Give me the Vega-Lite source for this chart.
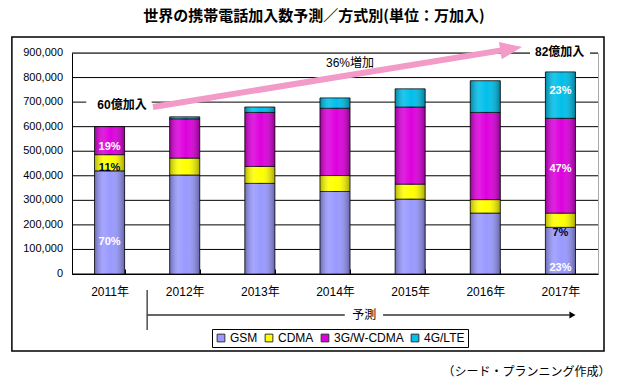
{
  "$schema": "https://vega.github.io/schema/vega-lite/v6.json",
  "width": 526,
  "height": 221,
  "autosize": {"type": "none"},
  "padding": {"left": 72, "top": 53, "right": 20, "bottom": 112},
  "background": "white",
  "config": {
    "view": {"stroke": "#aaa"},
    "font": "'Liberation Sans', 'Noto Sans CJK JP', sans-serif"
  },
  "title": {
    "text": "世界の携帯電話加入数予測／方式別(単位：万加入)",
    "font": "Noto Sans CJK JP",
    "fontSize": 15,
    "fontWeight": "bold",
    "color": "#000",
    "anchor": "middle",
    "baseline": "middle",
    "dx": -21,
    "offset": 5
  },
  "datasets": {
    "ticks": [
      {"t": 0}, {"t": 100000}, {"t": 200000}, {"t": 300000}, {"t": 400000},
      {"t": 500000}, {"t": 600000}, {"t": 700000}, {"t": 800000}, {"t": 900000}
    ],
    "subs": [
      {"year": "2011年", "series": "GSM", "k": 1, "value": 420000},
      {"year": "2011年", "series": "CDMA", "k": 2, "value": 66000},
      {"year": "2011年", "series": "3G/W-CDMA", "k": 3, "value": 114000},
      {"year": "2012年", "series": "GSM", "k": 1, "value": 403000},
      {"year": "2012年", "series": "CDMA", "k": 2, "value": 69000},
      {"year": "2012年", "series": "3G/W-CDMA", "k": 3, "value": 160000},
      {"year": "2012年", "series": "4G/LTE", "k": 4, "value": 8000},
      {"year": "2013年", "series": "GSM", "k": 1, "value": 369000},
      {"year": "2013年", "series": "CDMA", "k": 2, "value": 69000},
      {"year": "2013年", "series": "3G/W-CDMA", "k": 3, "value": 220000},
      {"year": "2013年", "series": "4G/LTE", "k": 4, "value": 22000},
      {"year": "2014年", "series": "GSM", "k": 1, "value": 336000},
      {"year": "2014年", "series": "CDMA", "k": 2, "value": 65000},
      {"year": "2014年", "series": "3G/W-CDMA", "k": 3, "value": 274000},
      {"year": "2014年", "series": "4G/LTE", "k": 4, "value": 42000},
      {"year": "2015年", "series": "GSM", "k": 1, "value": 305000},
      {"year": "2015年", "series": "CDMA", "k": 2, "value": 61000},
      {"year": "2015年", "series": "3G/W-CDMA", "k": 3, "value": 314000},
      {"year": "2015年", "series": "4G/LTE", "k": 4, "value": 74000},
      {"year": "2016年", "series": "GSM", "k": 1, "value": 248000},
      {"year": "2016年", "series": "CDMA", "k": 2, "value": 55000},
      {"year": "2016年", "series": "3G/W-CDMA", "k": 3, "value": 355000},
      {"year": "2016年", "series": "4G/LTE", "k": 4, "value": 129000},
      {"year": "2017年", "series": "GSM", "k": 1, "value": 190000},
      {"year": "2017年", "series": "CDMA", "k": 2, "value": 58000},
      {"year": "2017年", "series": "3G/W-CDMA", "k": 3, "value": 386000},
      {"year": "2017年", "series": "4G/LTE", "k": 4, "value": 189000}
    ],
    "shares": [
      {"year": "2011年", "series": "GSM", "pct": "70%", "pos": 132000},
      {"year": "2011年", "series": "CDMA", "pct": "11%", "pos": 432000},
      {"year": "2011年", "series": "3G/W-CDMA", "pct": "19%", "pos": 519000},
      {"year": "2017年", "series": "GSM", "pct": "23%", "pos": 23000},
      {"year": "2017年", "series": "CDMA", "pct": "7%", "pos": 168000},
      {"year": "2017年", "series": "3G/W-CDMA", "pct": "47%", "pos": 426000},
      {"year": "2017年", "series": "4G/LTE", "pct": "23%", "pos": 746000}
    ],
    "frame": [{"u0": -0.8, "u1": 7.08, "v0": 965000, "v1": -314000}],
    "boxes": [
      {"u0": 0.19, "u1": 1.06, "v0": 655000, "v1": 735000},
      {"u0": 6.095, "u1": 6.894, "v0": 870000, "v1": 935000}
    ],
    "darklines": [
      {"u0": 1.0, "u1": 1.0, "v0": -65000, "v1": -228000},
      {"u0": 1.0, "u1": 3.63, "v0": -167000, "v1": -167000},
      {"u0": 4.14, "u1": 6.62, "v0": -167000, "v1": -167000}
    ],
    "darkhead": [{"u0": 6.66, "v0": -167000}],
    "pinkline": [{"u0": 1.078, "u1": 5.844, "v0": 680000, "v1": 917000}],
    "pinkhead": [{"u0": 5.844, "v0": 917000}],
    "callouts": [
      {"u0": 0.665, "v0": 690000, "txt": "60億加入"},
      {"u0": 6.49, "v0": 904000, "txt": "82億加入"}
    ],
    "notes": [
      {"u0": 3.7, "v0": 859000, "txt": "36%増加"},
      {"u0": 3.89, "v0": -167000, "txt": "予測"}
    ]
  },
  "layer": [
    {
      "data": {"name": "ticks"},
      "mark": {"type": "rule", "color": "#000", "strokeWidth": 1},
      "encoding": {
        "y": {"field": "t", "type": "quantitative", "title": null, "scale": {"domain": [0, 900000], "nice": false, "zero": false}}
      }
    },
    {
      "data": {"name": "ticks"},
      "mark": {"type": "text", "align": "right", "baseline": "middle", "dx": -9, "fontSize": 11, "font": "Liberation Sans", "color": "#000"},
      "encoding": {
        "x": {"datum": 0, "type": "quantitative", "scale": {"domain": [0, 7], "nice": false, "zero": false}, "axis": null},
        "y": {"field": "t", "type": "quantitative", "title": null},
        "text": {"field": "t", "type": "quantitative", "format": ",d"}
      }
    },
    {
      "data": {"name": "subs"},
      "mark": {"type": "bar", "stroke": "#000", "strokeWidth": 0.8},
      "encoding": {
        "x": {
          "field": "year",
          "type": "nominal",
          "scale": {"paddingInner": 0.6, "paddingOuter": 0.3},
          "axis": {
            "labelAngle": 0,
            "labelFontSize": 12,
            "labelColor": "#000",
            "labelPadding": 17,
            "domainColor": "#000",
            "tickColor": "#000",
            "tickSize": -5,
            "tickBand": "extent",
            "title": "（シード・プランニング作成）",
            "titleFont": "Noto Sans CJK JP",
            "titleFontSize": 12,
            "titleFontWeight": "normal",
            "titleColor": "#000",
            "titleAnchor": null,
            "titleAlign": "right",
            "titleBaseline": "middle",
            "titleX": 538,
            "titleY": 97
          }
        },
        "y": {
          "field": "value",
          "type": "quantitative",
          "stack": "zero",
          "title": null,
          "axis": {"labels": false, "ticks": false, "grid": false, "domainColor": "#000", "title": null}
        },
        "color": {
          "field": "series",
          "type": "nominal",
          "scale": {
            "domain": ["GSM", "CDMA", "3G/W-CDMA", "4G/LTE"],
            "range": ["#9999FF", "#FFFF00", "#DD00DD", "#00BFEA"]
          },
          "legend": {
            "orient": "none",
            "legendX": 140,
            "legendY": 276,
            "direction": "horizontal",
            "title": null,
            "strokeColor": "#000",
            "padding": 3,
            "symbolType": "square",
            "symbolSize": 60,
            "symbolStrokeColor": "#333",
            "symbolStrokeWidth": 1,
            "labelFontSize": 12,
            "labelColor": "#000",
            "labelOffset": 3,
            "columnPadding": 5
          }
        },
        "order": {"field": "k", "type": "quantitative"}
      }
    },
    {
      "data": {"name": "subs"},
      "mark": {
        "type": "bar",
        "fill": {
          "gradient": "linear",
          "x1": 0, "y1": 0, "x2": 1, "y2": 0,
          "stops": [
            {"offset": 0, "color": "rgba(0,0,0,0.30)"},
            {"offset": 0.3, "color": "rgba(255,255,255,0.12)"},
            {"offset": 0.55, "color": "rgba(255,255,255,0.0)"},
            {"offset": 1, "color": "rgba(0,0,0,0.35)"}
          ]
        }
      },
      "encoding": {
        "x": {"field": "year", "type": "nominal", "scale": {"domain": ["2011年", "2012年", "2013年", "2014年", "2015年", "2016年", "2017年"], "paddingInner": 0.6, "paddingOuter": 0.3}, "axis": null},
        "y": {"aggregate": "sum", "field": "value", "type": "quantitative", "title": null}
      }
    },
    {
      "data": {"name": "shares"},
      "mark": {"type": "text", "fontWeight": "bold", "fontSize": 11, "font": "Liberation Sans", "baseline": "middle"},
      "encoding": {
        "x": {"field": "year", "type": "nominal", "scale": {"domain": ["2011年", "2012年", "2013年", "2014年", "2015年", "2016年", "2017年"], "paddingInner": 0.6, "paddingOuter": 0.3}, "axis": null},
        "y": {"field": "pos", "type": "quantitative", "title": null},
        "text": {"field": "pct"},
        "color": {
          "condition": {"test": "datum.series === 'CDMA'", "value": "#000033"},
          "value": "#ffffff"
        }
      }
    },
    {
      "data": {"name": "frame"},
      "mark": {"type": "rect", "filled": false, "stroke": "#000", "strokeWidth": 1.5},
      "encoding": {
        "x": {"field": "u0", "type": "quantitative", "scale": {"domain": [0, 7], "nice": false, "zero": false}, "axis": null},
        "x2": {"field": "u1"},
        "y": {"field": "v0", "type": "quantitative", "title": null},
        "y2": {"field": "v1"}
      }
    },
    {
      "data": {"name": "boxes"},
      "mark": {"type": "rect", "fill": "#fff", "stroke": null},
      "encoding": {
        "x": {"field": "u0", "type": "quantitative", "scale": {"domain": [0, 7], "nice": false, "zero": false}, "axis": null},
        "x2": {"field": "u1"},
        "y": {"field": "v0", "type": "quantitative", "title": null},
        "y2": {"field": "v1"}
      }
    },
    {
      "data": {"name": "darklines"},
      "mark": {"type": "rule", "color": "#333", "strokeWidth": 1.3},
      "encoding": {
        "x": {"field": "u0", "type": "quantitative", "scale": {"domain": [0, 7], "nice": false, "zero": false}, "axis": null},
        "x2": {"field": "u1"},
        "y": {"field": "v0", "type": "quantitative", "title": null},
        "y2": {"field": "v1"}
      }
    },
    {
      "data": {"name": "darkhead"},
      "mark": {"type": "point", "shape": "triangle-right", "filled": true, "color": "#000", "opacity": 1, "size": 50},
      "encoding": {
        "x": {"field": "u0", "type": "quantitative", "scale": {"domain": [0, 7], "nice": false, "zero": false}, "axis": null},
        "y": {"field": "v0", "type": "quantitative", "title": null}
      }
    },
    {
      "data": {"name": "pinkline"},
      "mark": {"type": "rule", "color": "#F29AC8", "strokeWidth": 6, "strokeCap": "butt"},
      "encoding": {
        "x": {"field": "u0", "type": "quantitative", "scale": {"domain": [0, 7], "nice": false, "zero": false}, "axis": null},
        "x2": {"field": "u1"},
        "y": {"field": "v0", "type": "quantitative", "title": null},
        "y2": {"field": "v1"}
      }
    },
    {
      "data": {"name": "pinkhead"},
      "mark": {"type": "point", "shape": "M-1,-0.8L1,0L-1,0.8Z", "filled": true, "color": "#F29AC8", "opacity": 1, "size": 480, "angle": -9.2},
      "encoding": {
        "x": {"field": "u0", "type": "quantitative", "scale": {"domain": [0, 7], "nice": false, "zero": false}, "axis": null},
        "y": {"field": "v0", "type": "quantitative", "title": null}
      }
    },
    {
      "data": {"name": "callouts"},
      "mark": {"type": "text", "fontSize": 12, "fontWeight": "bold", "font": "'Liberation Sans', 'Noto Sans CJK JP'", "color": "#000", "baseline": "middle"},
      "encoding": {
        "x": {"field": "u0", "type": "quantitative", "scale": {"domain": [0, 7], "nice": false, "zero": false}, "axis": null},
        "y": {"field": "v0", "type": "quantitative", "title": null},
        "text": {"field": "txt"}
      }
    },
    {
      "data": {"name": "notes"},
      "mark": {"type": "text", "fontSize": 12, "font": "'Liberation Sans', 'Noto Sans CJK JP'", "color": "#000", "baseline": "middle"},
      "encoding": {
        "x": {"field": "u0", "type": "quantitative", "scale": {"domain": [0, 7], "nice": false, "zero": false}, "axis": null},
        "y": {"field": "v0", "type": "quantitative", "title": null},
        "text": {"field": "txt"}
      }
    }
  ],
  "resolve": {"scale": {"x": "independent"}}
}
